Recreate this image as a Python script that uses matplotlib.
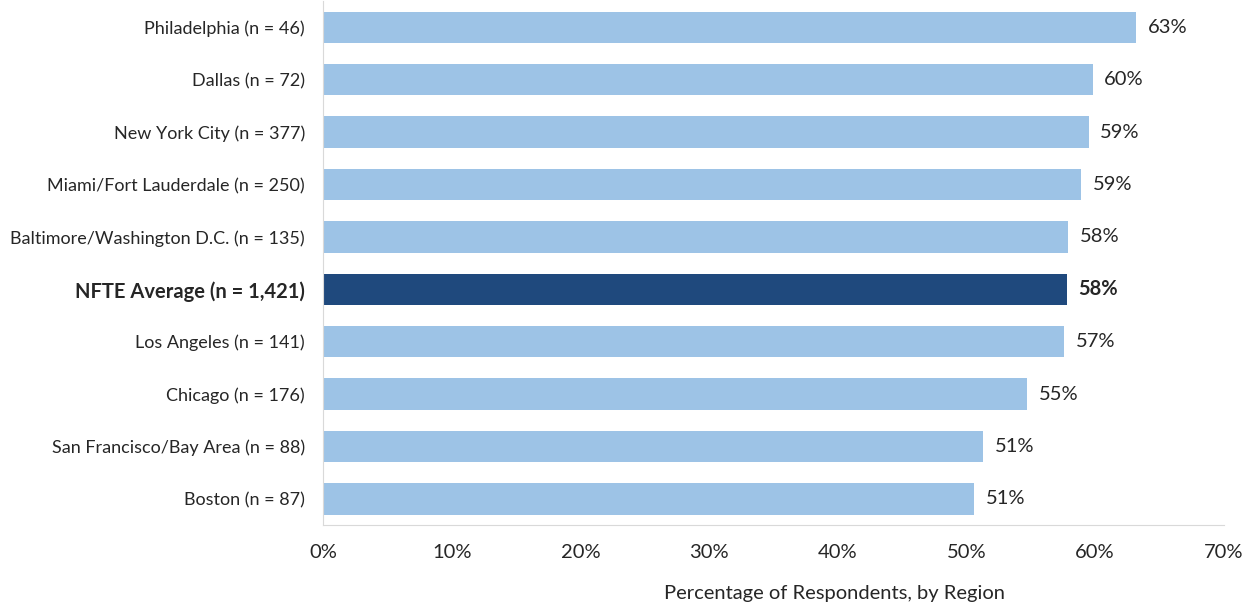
import matplotlib.pyplot as plt
from matplotlib.ticker import PercentFormatter

regioes = [
    "Philadelphia (n = 46)",
    "Dallas (n = 72)",
    "New York City (n = 377)",
    "Miami/Fort Lauderdale (n = 250)",
    "Baltimore/Washington D.C. (n = 135)",
    "NFTE Average (n = 1,421)",
    "Los Angeles (n = 141)",
    "Chicago (n = 176)",
    "San Francisco/Bay Area (n = 88)",
    "Boston (n = 87)",
]
valores = [63.2, 59.8, 59.5, 58.9, 57.9, 57.8, 57.6, 54.7, 51.3, 50.6]
rotulos = ["63%", "60%", "59%", "59%", "58%", "58%", "57%", "55%", "51%", "51%"]
destaque = "NFTE Average (n = 1,421)"

plt.rcParams["font.family"] = ["Lato", "DejaVu Sans"]

fig = plt.figure(figsize=(12.45, 6.05), dpi=100)
ax = fig.add_axes([0.2594, 0.1322, 0.7236, 0.8661])

cores = ["#1F497D" if r == destaque else "#9DC3E6" for r in regioes]
pos = list(range(len(regioes)))
ax.barh(pos, valores, height=0.6, color=cores)

for y, v, txt, r in zip(pos, valores, rotulos, regioes):
    peso = "bold" if r == destaque else "normal"
    ax.text(v + 0.9, y, txt, va="center", ha="left", fontsize=14.5,
            color="#262626", fontweight=peso)

ax.set_yticks(pos)
ax.set_yticklabels(regioes, fontsize=13, color="#262626")
for lbl in ax.get_yticklabels():
    if lbl.get_text() == destaque:
        lbl.set_fontweight("bold")
        lbl.set_fontsize(14.5)
ax.set_ylim(len(regioes) - 0.5, -0.5)

ax.set_xlim(0, 70)
ax.set_xticks(range(0, 71, 10))
ax.xaxis.set_major_formatter(PercentFormatter(decimals=0))
ax.tick_params(axis="x", length=0, labelsize=14.5, labelcolor="#262626", pad=14)
ax.tick_params(axis="y", length=0, pad=13)

for lado in ["top", "right"]:
    ax.spines[lado].set_visible(False)
ax.spines["left"].set_color("#D9D9D9")
ax.spines["bottom"].set_color("#D9D9D9")

fig.text(835 / 1245, 1 - 594 / 605, "Percentage of Respondents, by Region",
         ha="center", va="center", fontsize=14.5, color="#262626")

fig.savefig("out.png", dpi=100)
